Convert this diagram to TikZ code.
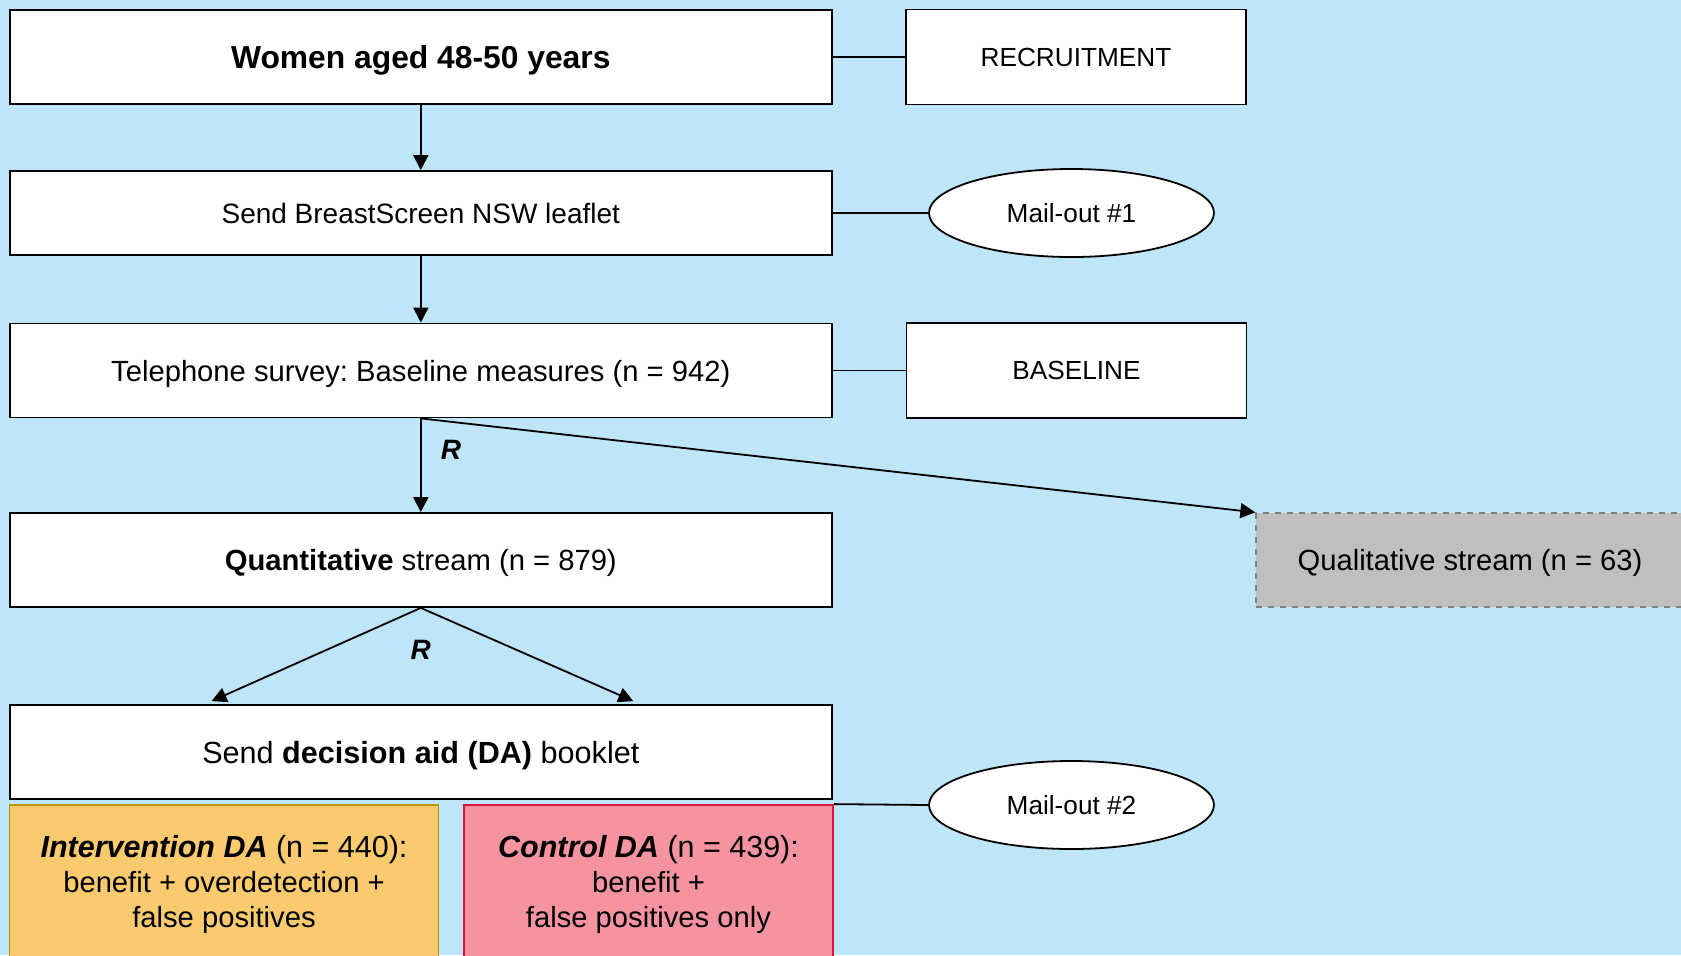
\documentclass[tikz,border=0pt]{standalone}
\usepackage{fontspec}
\setmainfont{Liberation Sans}
\usetikzlibrary{shapes.geometric, arrows.meta, calc}
\newcommand{\boxfont}{\fontsize{14.6}{17.5}\selectfont}
\newcommand{\titlefont}{\fontsize{15.9}{18}\selectfont\bfseries}
\newcommand{\sidefont}{\fontsize{13.1}{15}\selectfont}
\newcommand{\armhead}{\fontsize{15.25}{17.5}\selectfont}
\definecolor{bgblue}{RGB}{190,229,248}
\definecolor{intfill}{RGB}{250,203,110}
\definecolor{intdraw}{RGB}{191,144,0}
\definecolor{ctlfill}{RGB}{245,148,160}
\definecolor{ctldraw}{RGB}{220,20,60}
\definecolor{qualfill}{RGB}{191,191,191}
\definecolor{qualdraw}{RGB}{128,128,128}
\frenchspacing

\begin{document}
\begin{tikzpicture}[
        x=0.5pt,
        y=-0.5pt,
        line width=0.9pt,
        >={Triangle[length=7.5pt, width=7.5pt]},
        every node/.style={font=\boxfont, inner sep=0pt},
        oneline/.style={text height=#1, text depth=0pt},
        oneline/.default=10.5pt,
        stepbox/.style={draw, fill=white, oneline, minimum width=411pt, minimum height=47pt},
        sidebox/.style={draw, fill=white, oneline=9.4pt, font=\sidefont, minimum width=170pt, minimum height=47.5pt},
        mailout/.style={draw, fill=white, ellipse, oneline=9.4pt, font=\sidefont, minimum width=142.5pt, minimum height=44pt},
        armbox/.style={draw, align=center, minimum height=77pt, text height=48.4pt, text depth=3pt},
        rlabel/.style={font=\fontsize{14}{16}\selectfont\bfseries\itshape}
    ]
    \fill[bgblue] (0,0) rectangle (1681,955);
    \useasboundingbox (0,0) rectangle (1681,955);
    \clip (0,0) rectangle (1681,955);

    % main column
    \node[stepbox, font=\titlefont, oneline=11.4pt] (women) at (420.8,57) {Women aged 48-50 years};
    \node[stepbox, font=\fontsize{14}{17}\selectfont, oneline=10pt, minimum height=42pt] (leaflet) at (420.8,213) {Send BreastScreen NSW leaflet};
    \node[stepbox] (phone) at (420.8,370.5) {Telephone survey: Baseline measures (n = 942)};
    \node[stepbox] (quant) at (420.8,560) {\textbf{Quantitative} stream (n = 879)};
    \node[stepbox, font=\fontsize{15.3}{18}\selectfont, oneline=11pt] (da) at (420.8,752) {Send \textbf{decision aid (DA)} booklet};

    % side labels
    \node[sidebox] (recruit) at (1076,57) {RECRUITMENT};
    \node[mailout] (mail1) at (1071.5,213) {Mail-out \#1};
    \node[sidebox] (baseline) at (1076.5,370.5) {BASELINE};
    \node[mailout] (mail2) at (1071.5,805) {Mail-out \#2};

    \node[draw=qualdraw, fill=qualfill, dashed, oneline, minimum width=213.75pt, minimum height=46.75pt] (qual) at (1470,560) {Qualitative stream (n = 63)};

    % arms
    \node[armbox, draw=intdraw, fill=intfill, minimum width=214.5pt] (interv) at (224,882) {%
        {\armhead\textbf{\textit{Intervention DA}} (n = 440):}\\benefit + overdetection +\\false positives};
    \node[armbox, draw=ctldraw, fill=ctlfill, minimum width=184.5pt] (control) at (648.5,882) {%
        {\armhead\textbf{\textit{Control DA}} (n = 439):}\\benefit +\\false positives only};

    \node[rlabel] (r1) at (451,450) {R};
    \node[rlabel] (r2) at (420.8,650) {R};

    \coordinate (tipL) at ($(da.north west)!0.246!(da.north east)+(0,-3)$);
    \coordinate (tipR) at ($(da.north west)!0.758!(da.north east)+(0,-3)$);

    \draw[->] (women) -- (leaflet);
    \draw[->] (leaflet) -- (phone);
    \draw[->] (phone) -- (quant);
    \draw[->] (phone.south) -- (qual.north west);
    \draw[->] (quant.south) -- (tipL);
    \draw[->] (quant.south) -- (tipR);

    \draw (women.east) -- (recruit.west);
    \draw (leaflet.east) -- (mail1.west);
    \draw (phone.east) -- (baseline.west);
    \draw (control.north east) -- (mail2.west);
\end{tikzpicture}
\end{document}
